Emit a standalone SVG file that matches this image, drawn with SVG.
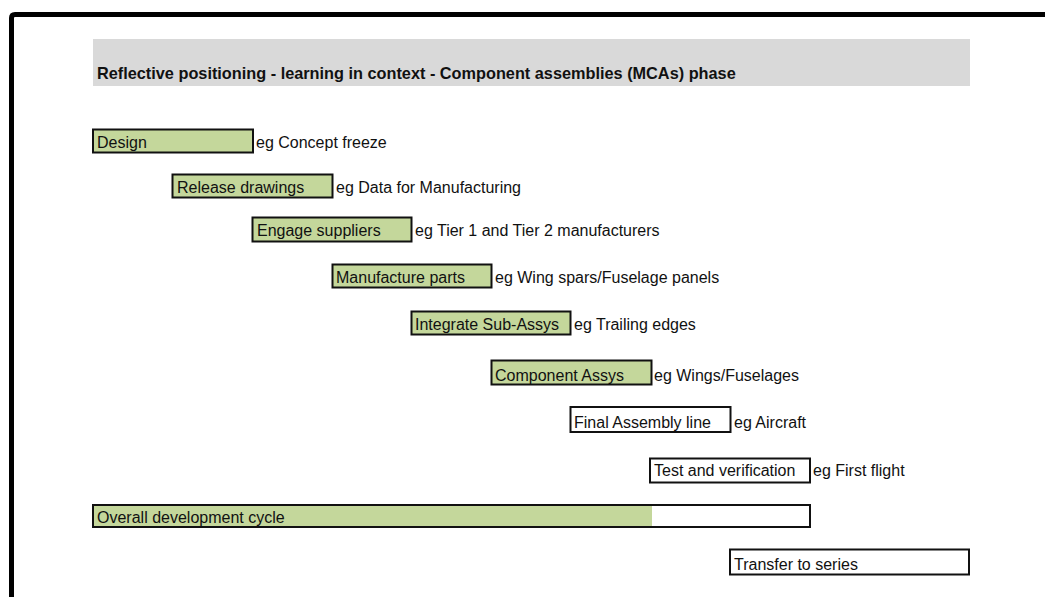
<svg xmlns="http://www.w3.org/2000/svg" width="1045" height="597" viewBox="0 0 1045 597">
  <style>
    text { font-family: "Liberation Sans", Arial, sans-serif; font-size: 16px; fill: #111; }
    .title { font-weight: bold; font-size: 16.3px; }
    .bar { fill: #c4d79b; stroke: #111; stroke-width: 2; }
    .open { fill: #fff; stroke: #111; stroke-width: 2; }
  </style>
  <rect x="0" y="0" width="1045" height="597" fill="#fff"/>
  <!-- outer frame -->
  <path d="M11.5 597 V18 Q11.5 14.5 15 14.5 H1045" fill="none" stroke="#000" stroke-width="5"/>

  <!-- heading band -->
  <g id="header">
    <rect x="93" y="39" width="877" height="47" fill="#d9d9d9"/>
    <text class="title" x="97" y="79">Reflective positioning - learning in context - Component assemblies (MCAs) phase</text>
  </g>

  <g id="design">
    <rect class="bar" x="93" y="129.5" width="160" height="23"/>
    <text x="97" y="148">Design</text>
    <text x="256" y="148">eg Concept freeze</text>
  </g>
  <g id="release">
    <rect class="bar" x="172.5" y="174.5" width="160" height="23"/>
    <text x="177" y="193">Release drawings</text>
    <text x="336" y="193">eg Data for Manufacturing</text>
  </g>
  <g id="engage">
    <rect class="bar" x="252.5" y="217.5" width="159" height="24"/>
    <text x="257" y="236">Engage suppliers</text>
    <text x="415" y="236">eg Tier 1 and Tier 2 manufacturers</text>
  </g>
  <g id="manufacture">
    <rect class="bar" x="332.5" y="264.5" width="159" height="23"/>
    <text x="336" y="283">Manufacture parts</text>
    <text x="495" y="283">eg Wing spars/Fuselage panels</text>
  </g>
  <g id="integrate">
    <rect class="bar" x="411.5" y="311.5" width="159" height="23"/>
    <text x="415" y="330">Integrate Sub-Assys</text>
    <text x="574" y="330">eg Trailing edges</text>
  </g>
  <g id="component">
    <rect class="bar" x="491.5" y="360.5" width="160" height="24"/>
    <text x="495" y="381">Component Assys</text>
    <text x="654" y="381">eg Wings/Fuselages</text>
  </g>
  <g id="final-assembly">
    <rect class="open" x="570.5" y="407" width="160" height="25"/>
    <text x="574" y="428">Final Assembly line</text>
    <text x="734" y="428">eg Aircraft</text>
  </g>
  <g id="test">
    <rect class="open" x="650" y="458.5" width="160" height="24"/>
    <text x="654" y="476">Test and verification</text>
    <text x="813" y="476">eg First flight</text>
  </g>
  <g id="overall">
    <rect x="93" y="505" width="717" height="22" fill="#fff"/>
    <rect x="93" y="505" width="559" height="22" fill="#c4d79b"/>
    <rect x="93" y="505" width="717" height="22" fill="none" stroke="#111" stroke-width="2"/>
    <text x="97" y="523">Overall development cycle</text>
  </g>
  <g id="transfer">
    <rect class="open" x="730" y="549.5" width="239" height="25"/>
    <text x="734" y="570">Transfer to series</text>
  </g>
  <g id="connectors"/>
</svg>
